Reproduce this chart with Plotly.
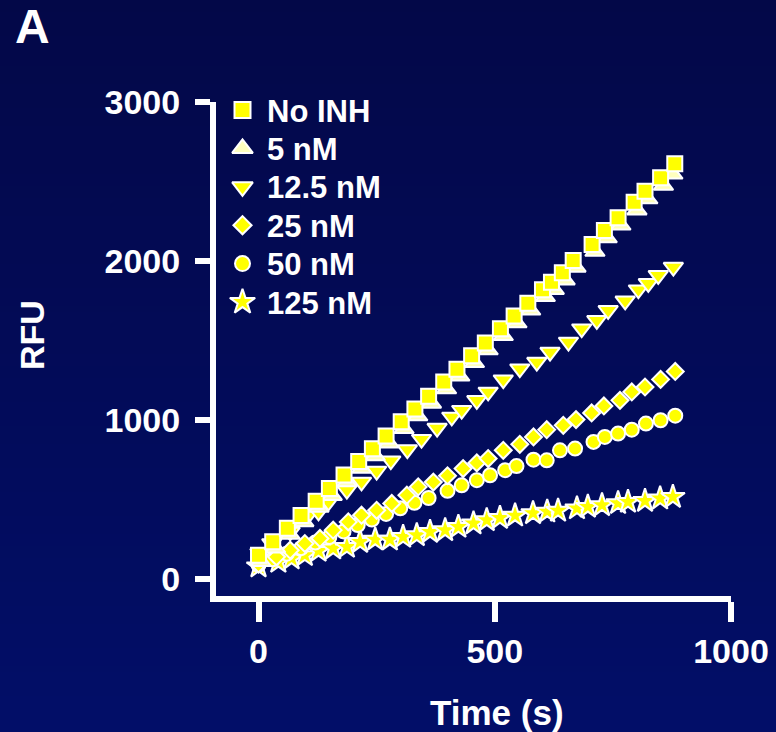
import plotly.graph_objects as go

# ---- data ----
series_names = ["No INH", "5 nM", "12.5 nM", "25 nM", "50 nM", "125 nM"]

t_noinh = [0, 30, 61, 90, 122, 150, 181, 212, 241, 270, 302, 331, 360, 392, 420, 451,
           480, 512, 541, 570, 601, 620, 643, 666, 706, 732, 761, 795, 818, 851, 881]
y_noinh = [150, 235, 320, 400, 490, 570, 655, 740, 820, 900, 990, 1070, 1150, 1240, 1320, 1405,
           1485, 1575, 1655, 1735, 1820, 1867, 1926, 2004, 2104, 2192, 2272, 2370, 2439, 2524, 2611]

t_5 = [5, 36, 67, 96, 128, 156, 187, 218, 247, 276, 308, 337, 366, 398, 426, 457,
       486, 518, 547, 576, 607, 626, 649, 672, 712, 738, 767, 801, 824, 857, 877]
y_5 = [110, 195, 280, 360, 450, 525, 610, 695, 775, 855, 945, 1025, 1105, 1195, 1275, 1360,
       1440, 1530, 1610, 1690, 1775, 1820, 1880, 1960, 2060, 2145, 2225, 2320, 2390, 2475, 2545]

t_12 = [3, 28, 67, 105, 127, 148, 187, 218, 250, 280, 315, 345, 378, 409, 430, 462,
        486, 518, 553, 589, 617, 656, 684, 716, 740, 776, 804, 825, 846, 878]
y_12 = [163, 224, 297, 402, 423, 486, 559, 611, 680, 745, 815, 880, 950, 1020, 1062, 1124,
        1177, 1254, 1323, 1365, 1428, 1491, 1575, 1627, 1690, 1750, 1820, 1860, 1910, 1962]

t_25 = [0, 38, 67, 98, 130, 158, 190, 218, 250, 282, 314, 338, 370, 400, 433, 462,
        486, 518, 553, 582, 610, 645, 672, 705, 731, 765, 790, 818, 851, 882]
y_25 = [95, 140, 182, 224, 256, 308, 360, 402, 433, 476, 528, 580, 610, 650, 695, 731,
        758, 810, 848, 894, 940, 967, 1003, 1045, 1089, 1124, 1177, 1208, 1256, 1306]

t_50 = [0, 30, 60, 90, 120, 150, 180, 210, 240, 270, 300, 330, 360, 400, 430, 462,
        490, 522, 546, 582, 610, 638, 670, 709, 733, 761, 790, 820, 851, 882]
y_50 = [90, 125, 160, 195, 230, 265, 300, 340, 375, 410, 445, 480, 510, 555, 590, 622,
        653, 685, 711, 751, 747, 810, 821, 863, 894, 915, 940, 978, 999, 1028]

t_125 = [0, 42, 70, 98, 127, 158, 187, 215, 247, 278, 306, 335, 363, 395, 423, 455,
         483, 511, 543, 581, 611, 634, 674, 697, 727, 761, 782, 818, 850, 877]
y_125 = [80, 109, 130, 151, 178, 193, 203, 234, 249, 249, 266, 276, 297, 308, 329, 350,
         371, 385, 400, 415, 425, 430, 445, 455, 465, 478, 486, 492, 507, 517]

x_ticks = [0, 500, 1000]
y_ticks = [0, 1000, 2000, 3000]

# ---- styling ----
W, H = 776, 732
ML, MR, MT, MB = 216, 45, 102, 136
FONT = "Liberation Sans, Arial, sans-serif"
YELLOW = "#FFFF00"
PALE = "#FFFFBE"

styles = {
    "No INH": dict(symbol="square", size=15, color=YELLOW),
    "5 nM": dict(symbol="triangle-up", size=17, color=PALE),
    "12.5 nM": dict(symbol="triangle-down", size=17, color=YELLOW),
    "25 nM": dict(symbol="diamond", size=13, color=YELLOW),
    "50 nM": dict(symbol="circle", size=14, color=YELLOW),
    "125 nM": dict(symbol="star", size=18, color=YELLOW),
}
data = {
    "No INH": (t_noinh, y_noinh),
    "5 nM": (t_5, y_5),
    "12.5 nM": (t_12, y_12),
    "25 nM": (t_25, y_25),
    "50 nM": (t_50, y_50),
    "125 nM": (t_125, y_125),
}

fig = go.Figure()
for name in reversed(series_names):
    tx, ty = data[name]
    st = styles[name]
    fig.add_trace(go.Scatter(
        x=tx, y=ty, mode="markers", name=name, showlegend=False,
        marker=dict(symbol=st["symbol"], size=st["size"], color=st["color"],
                    line=dict(color="white", width=2)),
        cliponaxis=False,
    ))

# ---- key (legend) drawn on a pixel-unit overlay axis ----
LEG_X = 242.5
LEG_Y0 = 110
LEG_DY = 38.4
TEXT_X = 267
for i, name in enumerate(series_names):
    st = styles[name]
    fig.add_trace(go.Scatter(
        x=[LEG_X], y=[LEG_Y0 + i * LEG_DY], xaxis="x2", yaxis="y2",
        mode="markers", name=name, showlegend=False, hoverinfo="skip",
        marker=dict(symbol=st["symbol"], size=st["size"] + 1, color=st["color"],
                    line=dict(color="white", width=2)),
        cliponaxis=False,
    ))

pw = W - ML - MR
ph = H - MT - MB

# background vertical gradient via strips
top_c = (3, 8, 72)
bot_c = (2, 14, 104)
n = 122
shapes = []
for i in range(n):
    f = i / (n - 1)
    c = tuple(round(top_c[k] + (bot_c[k] - top_c[k]) * f) for k in range(3))
    py0 = H * i / n
    py1 = H * (i + 1) / n + 0.5
    shapes.append(dict(
        type="rect", xref="paper", yref="paper", layer="below",
        x0=(0 - ML) / pw, x1=(W - ML) / pw,
        y0=(H - MB - py1) / ph, y1=(H - MB - py0) / ph,
        fillcolor="rgb(%d,%d,%d)" % c, line=dict(width=0),
    ))

def px2paper_x(px):
    return (px - ML) / pw

def px2paper_y(py):
    return (H - MB - py) / ph

annotations = [
    dict(text="A", xref="paper", yref="paper", x=px2paper_x(32), y=px2paper_y(26),
         xanchor="center", yanchor="middle", showarrow=False,
         font=dict(family=FONT, size=48, color="white", weight="bold")),
    dict(text="RFU", xref="paper", yref="paper", x=px2paper_x(32), y=px2paper_y(335),
         xanchor="center", yanchor="middle", textangle=-90, showarrow=False,
         font=dict(family=FONT, size=34, color="white", weight="bold")),
    dict(text="Time (s)", xref="paper", yref="paper", x=px2paper_x(497), y=px2paper_y(712),
         xanchor="center", yanchor="middle", showarrow=False,
         font=dict(family=FONT, size=35, color="white", weight="bold")),
]
for i, name in enumerate(series_names):
    annotations.append(dict(
        text=name, xref="paper", yref="paper",
        x=px2paper_x(TEXT_X - 2), y=px2paper_y(LEG_Y0 + i * LEG_DY + 1),
        xanchor="left", yanchor="middle", showarrow=False,
        font=dict(family=FONT, size=31, color="white", weight="bold"),
    ))

axis_common = dict(
    showgrid=False, zeroline=False, showline=True, linecolor="white", linewidth=6,
    ticks="outside", tickcolor="white", tickwidth=6, automargin=False,
    tickfont=dict(family=FONT, size=34, color="white", weight="bold"),
)

fig.update_layout(
    width=W, height=H,
    margin=dict(l=ML, r=MR, t=MT, b=MB, pad=0, autoexpand=False),
    paper_bgcolor="rgb(3,11,88)",
    plot_bgcolor="rgba(0,0,0,0)",
    shapes=shapes,
    annotations=annotations,
    showlegend=False,
    xaxis=dict(range=[-90, 1000], tickvals=x_ticks, ticktext=[str(v) for v in x_ticks],
               ticklen=20, **axis_common),
    yaxis=dict(range=[-106, 3000], tickvals=y_ticks, ticktext=[str(v) for v in y_ticks],
               ticklen=15, ticklabelstandoff=8, **axis_common),
    xaxis2=dict(domain=[0, 1], range=[ML, W - MR], overlaying="x", anchor="y2",
                visible=False, fixedrange=True),
    yaxis2=dict(domain=[0, 1], range=[H - MB, MT], overlaying="y", anchor="x2",
                visible=False, fixedrange=True),
)

fig.write_html("out.html")
